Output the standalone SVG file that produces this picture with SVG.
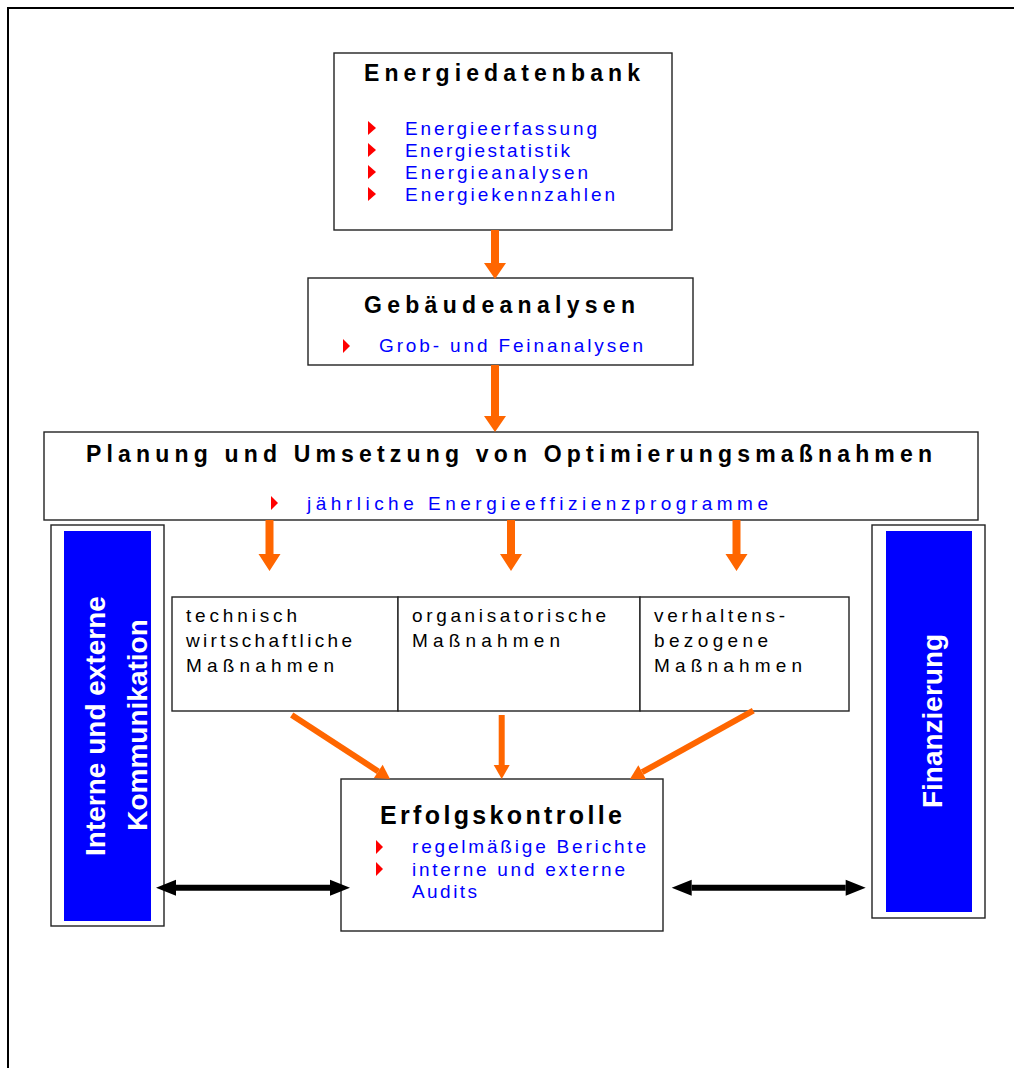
<svg xmlns="http://www.w3.org/2000/svg" width="1014" height="1068" viewBox="0 0 1014 1068">
<style>
text{font-family:"Liberation Sans",Arial,Helvetica,sans-serif}
.box{fill:#fff;stroke:#222;stroke-width:1.4}
.title{font-size:23px;font-weight:bold;fill:#000}
.item{font-size:19px;fill:#0000ff}
.cell{font-size:19px;fill:#000}
.bul{fill:#ff0000}
.side{fill:#0000ff}
.vt{font-size:28px;font-weight:bold;fill:#fff;text-anchor:middle}
.orb{fill:#ff6600}
.ors{stroke:#ff6600;stroke-width:6;fill:none}
.blk{stroke:#000;stroke-width:6;fill:none}
</style>
<defs>
<marker id="ohs" markerUnits="userSpaceOnUse" markerWidth="14" markerHeight="16" refX="0" refY="8" orient="auto" overflow="visible"><path d="M0,0 L14,8 L0,16 Z" fill="#ff6600"/></marker>
<marker id="bh" markerUnits="userSpaceOnUse" markerWidth="20" markerHeight="16" refX="0" refY="8" orient="auto-start-reverse" overflow="visible"><path d="M0,0 L20,8 L0,16 Z" fill="#000"/></marker>
</defs>
<rect x="8" y="8" width="1020" height="1080" fill="#fff" stroke="#000" stroke-width="2"/>

<g id="energiedatenbank">
<rect class="box" x="334" y="53" width="338" height="177"/>
<text class="title" x="364" y="81" textLength="276" lengthAdjust="spacing">Energiedatenbank</text>
<path class="bul" d="M368,121L376,128L368,135Z"/>
<path class="bul" d="M368,143L376,150L368,157Z"/>
<path class="bul" d="M368,165L376,172L368,179Z"/>
<path class="bul" d="M368,187L376,194L368,201Z"/>
<text class="item" x="405" y="135" textLength="192" lengthAdjust="spacing">Energieerfassung</text>
<text class="item" x="405" y="157" textLength="165" lengthAdjust="spacing">Energiestatistik</text>
<text class="item" x="405" y="179" textLength="183" lengthAdjust="spacing">Energieanalysen</text>
<text class="item" x="405" y="201" textLength="210" lengthAdjust="spacing">Energiekennzahlen</text>
</g>

<g id="gebaeudeanalysen">
<rect class="box" x="308" y="278" width="385" height="87"/>
<text class="title" x="364" y="313" textLength="271" lengthAdjust="spacing">Gebäudeanalysen</text>
<path class="bul" d="M343,339L350,346L343,353Z"/>
<text class="item" x="379" y="352" textLength="264" lengthAdjust="spacing">Grob- und Feinanalysen</text>
</g>

<g id="planung">
<rect class="box" x="44" y="432" width="934" height="88"/>
<text class="title" x="86" y="461.5" textLength="846" lengthAdjust="spacing">Planung und Umsetzung von Optimierungsmaßnahmen</text>
<path class="bul" d="M271,496L278,503L271,510Z"/>
<text class="item" x="307" y="510" textLength="461" lengthAdjust="spacing">jährliche Energieeffizienzprogramme</text>
</g>

<g id="kommunikation">
<rect class="box" x="51" y="525" width="113" height="401"/>
<rect class="side" x="64" y="531" width="87" height="390"/>
<text class="vt" transform="translate(105,726) rotate(-90)">Interne und externe</text>
<text class="vt" transform="translate(146.5,725) rotate(-90)">Kommunikation</text>
</g>

<g id="finanzierung">
<rect class="box" x="872" y="525" width="113" height="393"/>
<rect class="side" x="886" y="531" width="86" height="381"/>
<text class="vt" transform="translate(941.5,721) rotate(-90)">Finanzierung</text>
</g>

<g id="technisch">
<rect class="box" x="172" y="597" width="226" height="114"/>
<text class="cell" x="186" y="622" textLength="111" lengthAdjust="spacing">technisch</text>
<text class="cell" x="186" y="647" textLength="166" lengthAdjust="spacing">wirtschaftliche</text>
<text class="cell" x="186" y="672" textLength="148" lengthAdjust="spacing">Maßnahmen</text>
</g>

<g id="organisatorisch">
<rect class="box" x="398" y="597" width="242" height="114"/>
<text class="cell" x="412" y="622" textLength="194" lengthAdjust="spacing">organisatorische</text>
<text class="cell" x="412" y="647" textLength="148" lengthAdjust="spacing">Maßnahmen</text>
</g>

<g id="verhalten">
<rect class="box" x="640" y="597" width="209" height="114"/>
<text class="cell" x="654" y="622" textLength="131" lengthAdjust="spacing">verhaltens-</text>
<text class="cell" x="654" y="647" textLength="114" lengthAdjust="spacing">bezogene</text>
<text class="cell" x="654" y="672" textLength="148" lengthAdjust="spacing">Maßnahmen</text>
</g>

<g id="erfolgskontrolle">
<rect class="box" x="341" y="779" width="322" height="152"/>
<text class="title" x="380" y="824" style="font-size:25px" textLength="242" lengthAdjust="spacing">Erfolgskontrolle</text>
<path class="bul" d="M376,840L383,847L376,854Z"/>
<path class="bul" d="M376,862L383,869L376,876Z"/>
<text class="item" x="412" y="853" textLength="234" lengthAdjust="spacing">regelmäßige Berichte</text>
<text class="item" x="412" y="875.5" textLength="213" lengthAdjust="spacing">interne und externe</text>
<text class="item" x="412" y="898" textLength="65" lengthAdjust="spacing">Audits</text>
</g>

<g id="connectors">
<path class="orb" d="M491,230H499V263H506L495,279L484,263H491Z"/>
<path class="orb" d="M491,365H499V416H506L495,432L484,416H491Z"/>
<path class="orb" d="M265.5,520H273.5V554H280.5L269.5,571L258.5,554H265.5Z"/>
<path class="orb" d="M507,520H515V554H522L511,571L500,554H507Z"/>
<path class="orb" d="M732.5,520H740.5V554H747.5L736.5,571L725.5,554H732.5Z"/>
<line class="ors" x1="291.7" y1="715" x2="378.3" y2="771.4" marker-end="url(#ohs)"/>
<line class="ors" x1="501.7" y1="715" x2="501.7" y2="765" marker-end="url(#ohs)"/>
<line class="ors" x1="753.3" y1="710.7" x2="642.2" y2="772.2" marker-end="url(#ohs)"/>
<line class="blk" x1="176" y1="887.7" x2="330" y2="887.7" marker-start="url(#bh)" marker-end="url(#bh)"/>
<line class="blk" x1="691.7" y1="887.7" x2="845.7" y2="887.7" marker-start="url(#bh)" marker-end="url(#bh)"/>
</g>
</svg>
